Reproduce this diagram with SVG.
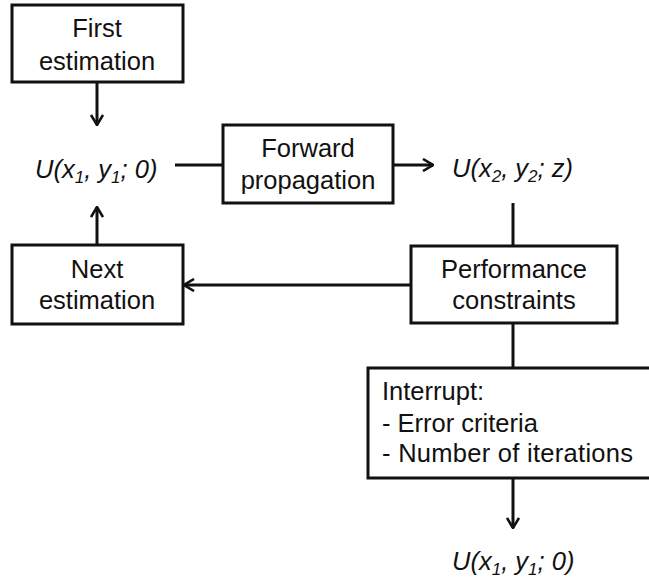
<svg xmlns="http://www.w3.org/2000/svg" width="649" height="587" viewBox="0 0 649 587">
<style>
.box{fill:#fff;stroke:#111;stroke-width:3}
.t{font-family:"Liberation Sans",Arial,sans-serif;font-size:25.5px;fill:#111}
.c{text-anchor:middle}
.i{font-style:italic}
.sub{font-size:17px}
.ln{stroke:#111;stroke-width:3;fill:none}
</style>
<defs>
<marker id="ah" viewBox="0 0 12 14" refX="11" refY="7" markerWidth="12" markerHeight="14" markerUnits="userSpaceOnUse" orient="auto">
<path d="M1,1 L11,7 L1,13" fill="none" stroke="#111" stroke-width="2.6"/>
</marker>
</defs>
<rect width="649" height="587" fill="#fff"/>
<g id="connectors">
<line class="ln" x1="97" y1="82" x2="97" y2="125" marker-end="url(#ah)"/>
<line class="ln" x1="175" y1="165" x2="223" y2="165"/>
<line class="ln" x1="393" y1="165" x2="433" y2="165" marker-end="url(#ah)"/>
<line class="ln" x1="513" y1="203" x2="513" y2="246"/>
<line class="ln" x1="411" y1="285" x2="184" y2="285" marker-end="url(#ah)"/>
<line class="ln" x1="97" y1="245" x2="97" y2="207" marker-end="url(#ah)"/>
<line class="ln" x1="513" y1="323" x2="513" y2="368"/>
<line class="ln" x1="513" y1="478" x2="513" y2="528" marker-end="url(#ah)"/>
</g>
<g id="first-estimation">
<rect class="box" x="12" y="5" width="171" height="77"/>
<text class="t c" x="97" y="37">First</text>
<text class="t c" x="97" y="70">estimation</text>
</g>
<g id="u-start">
<text class="t i" x="35" y="178">U(x<tspan class="sub" dy="5">1</tspan><tspan dy="-5">, y</tspan><tspan class="sub" dy="5">1</tspan><tspan dy="-5">; 0)</tspan></text>
</g>
<g id="forward-propagation">
<rect class="box" x="223" y="125" width="170" height="78"/>
<text class="t c" x="308" y="157">Forward</text>
<text class="t c" x="308" y="189">propagation</text>
</g>
<g id="u-z">
<text class="t i" x="452" y="177">U(x<tspan class="sub" dy="5">2</tspan><tspan dy="-5">, y</tspan><tspan class="sub" dy="5">2</tspan><tspan dy="-5">; z)</tspan></text>
</g>
<g id="next-estimation">
<rect class="box" x="12" y="245" width="171" height="79"/>
<text class="t c" x="97" y="278">Next</text>
<text class="t c" x="97" y="309">estimation</text>
</g>
<g id="performance-constraints">
<rect class="box" x="411" y="246" width="206" height="77"/>
<text class="t c" x="514" y="278">Performance</text>
<text class="t c" x="514" y="309">constraints</text>
</g>
<g id="interrupt">
<rect class="box" x="368" y="368" width="290" height="110"/>
<text class="t" x="382" y="400">Interrupt:</text>
<text class="t" x="382" y="432">- Error criteria</text>
<text class="t" x="382" y="462" textLength="251" lengthAdjust="spacing">- Number of iterations</text>
</g>
<g id="u-end">
<text class="t i" x="452" y="570">U(x<tspan class="sub" dy="5">1</tspan><tspan dy="-5">, y</tspan><tspan class="sub" dy="5">1</tspan><tspan dy="-5">; 0)</tspan></text>
</g>
</svg>
